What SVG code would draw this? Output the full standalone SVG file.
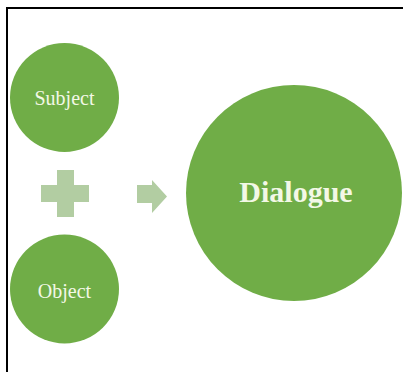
<svg xmlns="http://www.w3.org/2000/svg" width="403" height="372" viewBox="0 0 403 372">
<style>
.node{fill:#70AD47;}
.lbl{font-family:"Liberation Serif","Times New Roman",serif;fill:#F3F8E6;text-anchor:middle;}
.conn{fill:#B2CDA2;}
</style>
<rect x="0" y="0" width="403" height="372" fill="#FFFFFF"/>
<path d="M7,372 V8 H403" fill="none" stroke="#000000" stroke-width="2"/>
<g id="subject">
<circle class="node" cx="64.5" cy="97.5" r="54.5"/>
<text class="lbl" x="64.5" y="105" font-size="20">Subject</text>
</g>
<g id="object">
<circle class="node" cx="64.5" cy="289" r="54.5"/>
<text class="lbl" x="64.5" y="298" font-size="20">Object</text>
</g>
<g id="dialogue">
<circle class="node" cx="294" cy="193" r="108"/>
<text class="lbl" x="296" y="202" font-size="30" font-weight="bold">Dialogue</text>
</g>
<g id="connectors">
<path class="conn" d="M57,170 H74 V185 H89 V202 H74 V217 H57 V202 H41 V185 H57 Z"/>
<path class="conn" d="M137,185 H152 V180 L167,196.5 L152,213 V203 H137 Z"/>
</g>
</svg>
